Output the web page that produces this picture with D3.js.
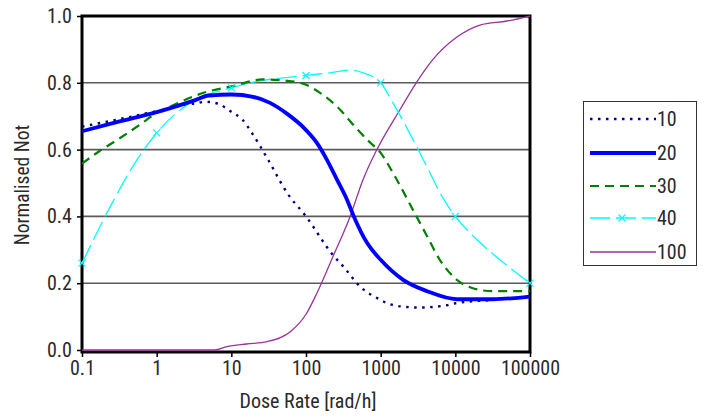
<!DOCTYPE html>
<html><head><meta charset="utf-8">
<script src="https://cdn.jsdelivr.net/npm/d3@7/dist/d3.min.js"></script>
<style>
body{margin:0;background:#fff;}
svg text{font-family:"Liberation Sans Narrow","Arial Narrow","Roboto Condensed","DejaVu Sans Condensed",sans-serif;fill:#2a2a2a;}
</style></head>
<body><svg id="c" width="705" height="419"></svg>
<script>
const xTicks = [0.1, 1, 10, 100, 1000, 10000, 100000];
const xTickLabels = ["0.1","1","10","100","1000","10000","100000"];
const yTicks = [0, 0.2, 0.4, 0.6, 0.8, 1.0];
const yTickLabels = ["0.0","0.2","0.4","0.6","0.8","1.0"];
const seriesNames = ["10","20","30","40","100"];

const s10x = [0.1,0.3,1,3,4.7,7,10,14,19.5,31,56,100,230,316,530,1000,1330,2470,3160,7700,10000,31600,100000];
const s10y = [0.669,0.69,0.715,0.737,0.743,0.735,0.713,0.69,0.645,0.57,0.47,0.40,0.284,0.25,0.19,0.15,0.137,0.128,0.127,0.134,0.14,0.15,0.16];

const s20x = [0.1,0.3,1,3,5,10,19.5,33,56,91,140,190,260,354,437,660,1000,2000,4200,10500,31600,100000];
const s20y = [0.655,0.683,0.712,0.745,0.762,0.765,0.758,0.74,0.707,0.668,0.62,0.57,0.51,0.45,0.40,0.32,0.27,0.21,0.176,0.152,0.152,0.16];

const s30x = [0.1,0.17,0.3,0.6,1,1.5,3,4.7,10.5,26,56,100,154,285,426,656,1000,1550,2700,4200,6200,10500,17200,31600,100000];
const s30y = [0.558,0.595,0.63,0.675,0.71,0.728,0.758,0.773,0.79,0.81,0.806,0.794,0.77,0.72,0.675,0.63,0.59,0.52,0.42,0.34,0.27,0.21,0.185,0.176,0.176];

const s40x = [0.1,0.24,0.48,1,2.8,10,18,100,210,390,580,1000,1460,2710,4580,6630,10000,19500,39600,100000];
const s40y = [0.26,0.43,0.55,0.65,0.74,0.785,0.80,0.822,0.83,0.838,0.83,0.80,0.74,0.63,0.53,0.46,0.40,0.33,0.27,0.20];
const s40markX = [0.1,1,10,100,1000,10000,100000];
const s40markY = [0.26,0.65,0.785,0.822,0.80,0.40,0.20];

const s100x = [0.1,1,6,8.7,16,30,61,100,140,230,390,580,890,1820,2880,5020,10500,21400,49200,100000];
const s100y = [0,0,0,0.01,0.018,0.025,0.054,0.107,0.17,0.28,0.40,0.51,0.60,0.72,0.794,0.87,0.937,0.973,0.985,1.0];

const svg = d3.select("#c");
const L = 82, R = 530, T = 16, B = 351;
const x = d3.scaleLog().domain([0.1,100000]).range([L,R]);
const y = d3.scaleLinear().domain([0,1]).range([B-1,T]);

// gridlines
svg.append("g").selectAll("line").data(yTicks.filter(d=>d>0&&d<1)).join("line")
  .attr("x1",L).attr("x2",R).attr("y1",d=>y(d)).attr("y2",d=>y(d))
  .attr("stroke","#5a5a5a").attr("stroke-width",1.6);

// frame
svg.append("rect").attr("x",L).attr("y",T).attr("width",R-L).attr("height",B-T+1)
  .attr("fill","none").attr("stroke","#000").attr("stroke-width",3);

// axes
const xAxis = d3.axisBottom(x).tickValues(xTicks).tickFormat((d,i)=>xTickLabels[i]).tickSize(5).tickPadding(4);
const gx = svg.append("g").attr("transform",`translate(0,${B+1})`).call(xAxis);
gx.select(".domain").remove();
gx.selectAll("line").attr("stroke","#000").attr("stroke-width",1.5);
gx.selectAll("text").attr("font-size",20).attr("fill","#2a2a2a");

const yAxis = d3.axisLeft(y).tickValues(yTicks).tickFormat((d,i)=>yTickLabels[i]).tickSize(5).tickPadding(5);
const gy = svg.append("g").attr("transform",`translate(${L},0)`).call(yAxis);
gy.select(".domain").remove();
gy.selectAll("line").attr("stroke","#000").attr("stroke-width",1.5);
gy.selectAll("text").attr("font-size",20).attr("fill","#2a2a2a");

svg.append("text").attr("x",(L+R)/2+2).attr("y",408).attr("text-anchor","middle")
  .attr("font-size",20).text("Dose Rate [rad/h]");
svg.append("text").attr("transform","translate(29,185) rotate(-90)").attr("text-anchor","middle")
  .attr("font-size",19.5).text("Normalised Not");

// series
const line = (xs,ys)=>d3.line().x(i=>x(xs[i])).y(i=>y(ys[i])).curve(d3.curveMonotoneX)(d3.range(xs.length));
const styles = [
  {xs:s10x,ys:s10y,color:"#000080",w:2.4,dash:"2.5,5.5"},
  {xs:s20x,ys:s20y,color:"#0000ff",w:3.8,dash:null},
  {xs:s30x,ys:s30y,color:"#008000",w:2.2,dash:"9,6"},
  {xs:s40x,ys:s40y,color:"#00ffff",w:1.3,dash:"20,6"},
  {xs:s100x,ys:s100y,color:"#993399",w:1.3,dash:null}
];
const order = [4,0,3,2,1];
const gS = svg.append("g");
order.forEach(k=>{
  const s = styles[k];
  gS.append("path").attr("d",line(s.xs,s.ys)).attr("fill","none")
    .attr("stroke",s.color).attr("stroke-width",s.w)
    .attr("stroke-dasharray",s.dash).attr("stroke-linejoin","round");
});
const mk = (g,cx,cy)=>{
  g.append("path").attr("d",`M${cx-3.5},${cy-3.5}L${cx+3.5},${cy+3.5}M${cx-3.5},${cy+3.5}L${cx+3.5},${cy-3.5}`)
   .attr("stroke","#00ffff").attr("stroke-width",1.2);
};
s40markX.forEach((v,i)=>mk(gS,x(v),y(s40markY[i])));

// legend
const lg = svg.append("g");
lg.append("rect").attr("x",583.5).attr("y",101.5).attr("width",113).attr("height",164)
  .attr("fill","#fff").attr("stroke","#333").attr("stroke-width",1);
const ly = [119,153,186,218,252];
seriesNames.forEach((n,i)=>{
  const s = styles[i];
  lg.append("line").attr("x1",590).attr("x2",656).attr("y1",ly[i]).attr("y2",ly[i])
    .attr("stroke",s.color).attr("stroke-width",s.w).attr("stroke-dasharray",s.dash);
  if(i===3) mk(lg,622,ly[i]);
  lg.append("text").attr("x",657).attr("y",ly[i]+7).attr("font-size",20).text(n);
});
</script></body></html>
